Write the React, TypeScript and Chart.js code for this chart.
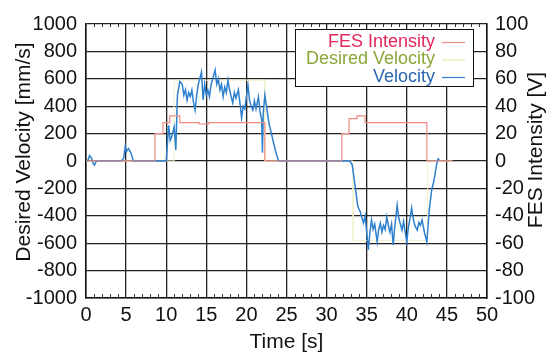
import React, { useEffect, useRef } from "react";
import { Chart, registerables } from "chart.js";

Chart.register(...registerables);

// ---- Data ----
const velTime = [
  0, 0.2, 0.45, 0.7, 0.9, 1.05, 1.3, 4.4, 4.7, 4.9, 5.05, 5.3, 5.6, 5.9, 10.0,
  10.3, 10.5, 10.7, 11.0, 11.2, 11.4, 11.7, 12.0, 12.2, 12.4, 12.6, 12.8, 13.0, 13.2, 13.4,
  13.6, 13.8, 14.0, 14.2, 14.4, 14.6, 14.8, 15.0, 15.2, 15.4, 15.6, 15.8, 16.1, 16.3,
  16.5, 16.7, 16.9, 17.1, 17.3, 17.5, 17.7, 17.9, 18.1, 18.3, 18.5, 18.7, 19.0, 19.2,
  19.4, 19.6, 19.8, 20.0, 20.2, 20.4, 20.6, 20.8, 21.0, 21.2, 21.5, 21.7, 21.9, 22.0,
  22.1, 22.3, 22.5, 22.8, 23.2, 23.6, 24.0, 32.9,
  33.2, 33.5, 33.9, 34.2, 34.4, 34.6, 34.8, 35.0, 35.2, 35.4, 35.6, 35.8, 36.0, 36.3,
  36.5, 36.7, 36.9, 37.1, 37.3, 37.5, 37.7, 37.9, 38.1, 38.3, 38.5, 38.8, 39.0, 39.2,
  39.4, 39.6, 39.8, 40.0, 40.2, 40.4, 40.6, 40.8, 41.0, 41.3, 41.5, 41.7, 41.9, 42.2,
  42.5, 42.8, 43.1, 43.4, 43.7, 43.9, 44.0,
];
const velValue = [
  0, 0, 40, 20, -20, -30, 0, 0, 20, 110, 70, 90, 60, 0, 0,
  260, 150, 180, 250, 80, 480, 580, 560, 480, 520, 445, 500, 470, 518, 430,
  372, 480, 560, 605, 650, 445, 560, 480, 518, 470, 560, 600, 664, 560,
  600, 518, 560, 470, 540, 500, 590, 520, 470, 423, 500, 460, 520, 420,
  314, 400, 380, 470, 550, 440, 400, 372, 440, 380, 467, 360, 300, 60,
  350, 480, 400, 280, 180, 80, 0, 0,
  -30, -160, -335, -370, -416, -453, -400, -520, -650, -520, -430, -500, -460, -590,
  -500, -453, -520, -470, -500, -408, -470, -520, -460, -613, -480, -321, -420, -460,
  -504, -440, -520, -591, -480, -420, -343, -420, -470, -504, -450, -470, -430, -520,
  -591, -358, -212, -139, -30, 15, 10,
];

const desTime = [0, 11.0, 11.0, 22.3, 22.3, 33.3, 33.3, 42.6, 42.6, 45.7];
const desValue = [0, 0, 590, 590, 0, 0, -580, -580, 0, 0];

const fesTime = [
  0, 8.6, 8.6, 9.6, 9.6, 10.45, 10.45, 11.7, 11.7, 14.1, 14.1, 15.3, 15.3, 22.3, 22.3,
  31.9, 31.9, 32.8, 32.8, 33.8, 33.8, 34.8, 34.8, 42.5, 42.5, 45.7,
];
const fesValue = [
  0, 0, 20, 20, 28, 28, 33, 33, 28, 28, 27, 27, 28, 28, 0,
  0, 20, 20, 31, 31, 33, 33, 28, 28, 0, 0,
];

const xTicks = [0, 5, 10, 15, 20, 25, 30, 35, 40, 45, 50];
const legendLabels = ["FES Intensity", "Desired Velocity", "Velocity"];

const FES_COLOR = "#f08c84";
const DES_COLOR = "#f2f2cc";
const VEL_COLOR = "#2f80cf";
const FONT = "'Liberation Sans', Arial, sans-serif";

const zip = (xs: number[], ys: number[]) => xs.map((x, i) => ({ x, y: ys[i] }));

const deco = {
  id: "deco",
  afterDraw(chart: any) {
    const { ctx, chartArea } = chart;
    const { left, right, top, bottom } = chartArea;
    const xs = chart.scales.x;
    ctx.save();
    // minor ticks
    ctx.strokeStyle = "#333";
    ctx.lineWidth = 1;
    for (let t = 1; t < 50; t++) {
      if (t % 5 === 0) continue;
      const px = Math.round(xs.getPixelForValue(t)) + 0.5;
      ctx.beginPath();
      ctx.moveTo(px, bottom);
      ctx.lineTo(px, bottom - 4);
      ctx.moveTo(px, top);
      ctx.lineTo(px, top + 3);
      ctx.stroke();
    }
    // axis titles
    ctx.fillStyle = "#111";
    ctx.font = `21px ${FONT}`;
    ctx.textAlign = "center";
    ctx.textBaseline = "middle";
    ctx.fillText("Time [s]", (left + right) / 2, 342);
    ctx.save();
    ctx.translate(24, 152);
    ctx.rotate(-Math.PI / 2);
    ctx.fillText("Desired Velocity [mm/s]", 0, 0);
    ctx.restore();
    ctx.save();
    ctx.translate(536, 150);
    ctx.rotate(-Math.PI / 2);
    ctx.fillText("FES Intensity [V]", 0, 0);
    ctx.restore();
    // legend
    const bx = 295, by = 29, bw = 178, bh = 57;
    ctx.fillStyle = "#fff";
    ctx.fillRect(bx, by, bw, bh);
    ctx.strokeStyle = "#111";
    ctx.lineWidth = 1;
    ctx.strokeRect(bx + 0.5, by + 0.5, bw, bh);
    const textColors = ["#e2285a", "#8aa838", "#2a66b0"];
    const lineColors = [FES_COLOR, "#e8e8a8", VEL_COLOR];
    const rowsY = [42, 59.5, 77];
    ctx.font = `18px ${FONT}`;
    ctx.textAlign = "right";
    legendLabels.forEach((lab, i) => {
      ctx.fillStyle = textColors[i];
      ctx.fillText(lab, 435, rowsY[i]);
      ctx.strokeStyle = lineColors[i];
      ctx.lineWidth = 1.2;
      ctx.beginPath();
      ctx.moveTo(442, rowsY[i] + 0.5);
      ctx.lineTo(465, rowsY[i] + 0.5);
      ctx.stroke();
    });
    ctx.restore();
  },
};

export default function App() {
  const ref = useRef<HTMLCanvasElement>(null);
  useEffect(() => {
    if (!ref.current) return;
    const tickFont = { family: FONT, size: 20 };
    const plain = (v: any) => String(v);
    const chart = new Chart(ref.current, {
      type: "line",
      data: {
        datasets: [
          {
            label: legendLabels[0],
            data: zip(fesTime, fesValue),
            yAxisID: "y2",
            borderColor: FES_COLOR,
            borderWidth: 1.2,
            pointRadius: 0,
            tension: 0,
            order: 0,
          },
          {
            label: legendLabels[1],
            data: zip(desTime, desValue),
            yAxisID: "y",
            borderColor: DES_COLOR,
            borderWidth: 1,
            pointRadius: 0,
            tension: 0,
            order: 2,
          },
          {
            label: legendLabels[2],
            data: zip(velTime, velValue),
            yAxisID: "y",
            borderColor: VEL_COLOR,
            borderWidth: 1.5,
            pointRadius: 0,
            tension: 0,
            order: 1,
          },
        ],
      } as any,
      options: {
        animation: false,
        responsive: false,
        layout: { padding: { top: 24, left: 0, right: 0, bottom: 0 } },
        plugins: { legend: { display: false }, tooltip: { enabled: false } },
        scales: {
          x: {
            type: "linear",
            min: 0,
            max: 50,
            afterBuildTicks: (s: any) => {
              s.ticks = xTicks.map((v) => ({ value: v }));
            },
            ticks: { font: tickFont, color: "#111", padding: 5, maxRotation: 0, autoSkip: false, callback: plain },
            grid: { color: "#222", lineWidth: 1.3, drawTicks: false },
            border: { color: "#111", width: 1.5 },
            afterFit: (s: any) => {
              s.height = 58;
            },
          },
          y: {
            position: "left",
            min: -1000,
            max: 1000,
            ticks: { stepSize: 200, font: tickFont, color: "#111", padding: 9, callback: plain },
            grid: { color: "#222", lineWidth: 1.3, drawTicks: false },
            border: { color: "#111", width: 1.5 },
            afterFit: (s: any) => {
              s.width = 86;
            },
          },
          y2: {
            position: "right",
            min: -100,
            max: 100,
            ticks: { stepSize: 20, font: tickFont, color: "#111", padding: 8, callback: plain },
            grid: { display: false, drawTicks: false },
            border: { color: "#111", width: 1.5 },
            afterFit: (s: any) => {
              s.width = 72;
            },
          },
        },
      } as any,
      plugins: [deco],
    });
    return () => chart.destroy();
  }, []);
  return (
    <div style={{ position: "fixed", left: 0, top: 0, width: 559, height: 356, background: "#fff" }}>
      <canvas ref={ref} width={559} height={356} style={{ display: "block" }} />
    </div>
  );
}
